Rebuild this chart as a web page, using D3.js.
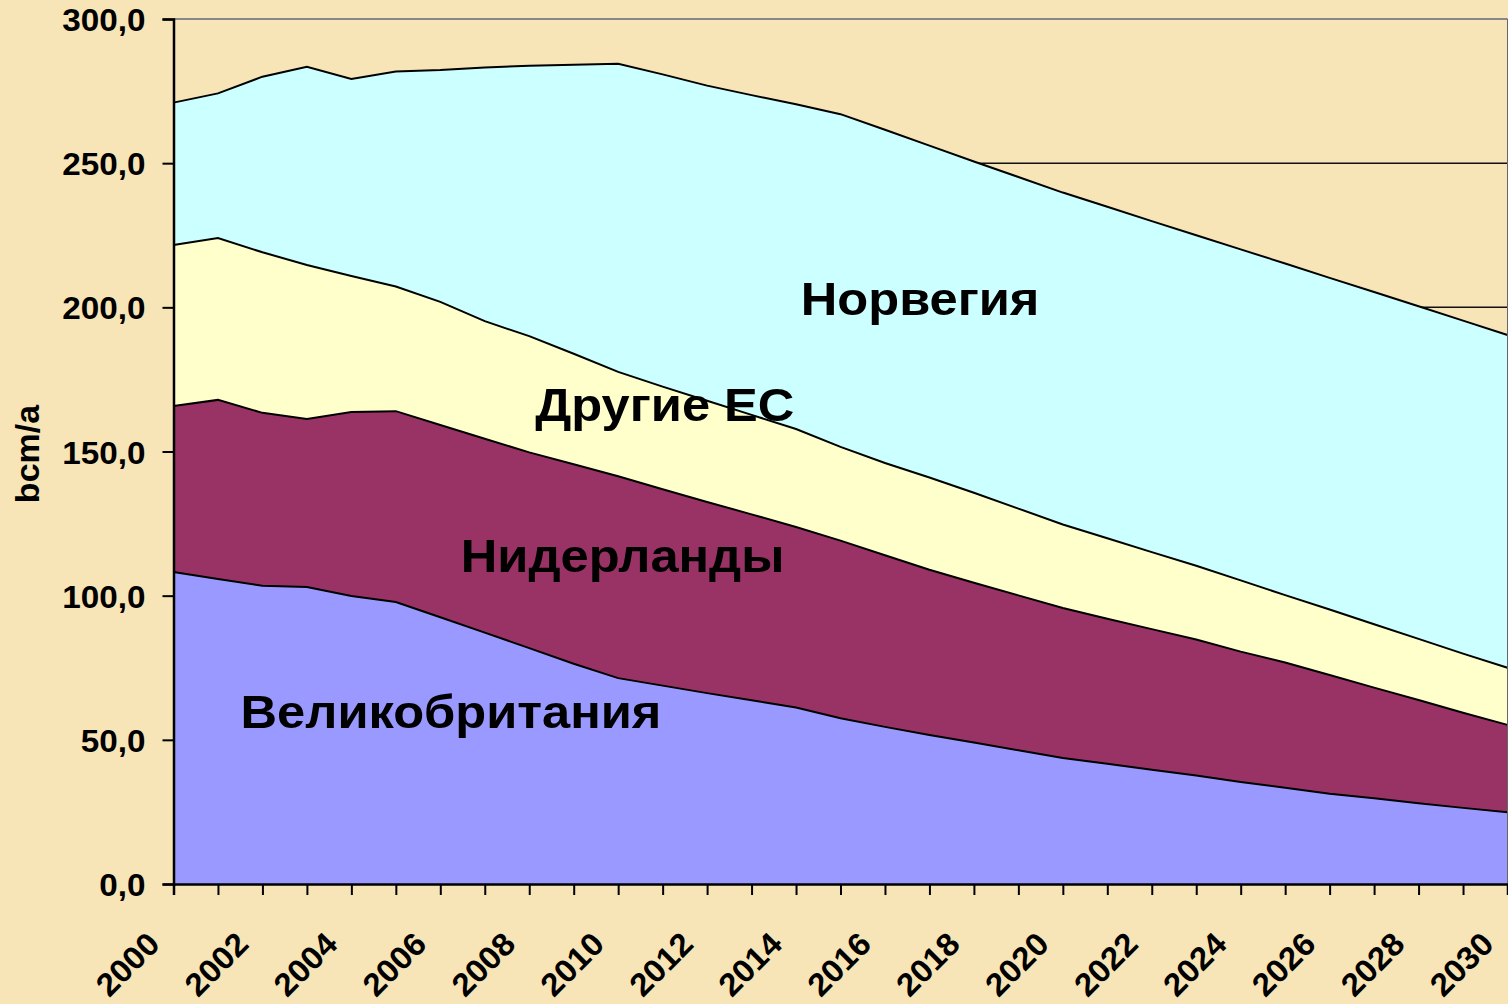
<!DOCTYPE html>
<html>
<head>
<meta charset="utf-8">
<script src="https://cdn.jsdelivr.net/npm/d3@7"></script>
<style>
  body { margin: 0; background: #F7E5B7; }
  svg { display: block; }
  text { font-family: "Liberation Sans", Arial, sans-serif; font-weight: bold; fill: #000; }
</style>
</head>
<body>
<div id="chart"></div>
<script>
// years 2000..2030, bcm/a
const years = d3.range(2000, 2031);
const uk = [108.2, 105.8, 103.4, 103.0, 99.9, 97.8, 92.5, 87.2, 81.8, 76.4, 71.4,
            68.8, 66.2, 63.7, 61.2, 57.5, 54.5, 51.7, 49.1, 46.4, 43.7,
            41.7, 39.6, 37.6, 35.4, 33.4, 31.3, 29.7, 28.0, 26.4, 24.9];
const netherlands = [57.6, 62.1, 60.0, 58.3, 63.8, 66.2, 66.7, 67.2, 67.9, 69.2, 70.0,
            68.1, 66.3, 64.5, 62.6, 61.6, 59.5, 57.3, 55.4, 53.7, 52.0,
            50.3, 48.8, 47.2, 45.2, 43.4, 41.2, 38.4, 35.8, 33.0, 30.3];
const otherEU = [55.8, 56.1, 55.7, 53.4, 47.2, 43.2, 42.7, 40.8, 40.3, 38.3, 36.2,
            35.6, 35.1, 34.5, 34.0, 32.5, 32.0, 32.0, 31.2, 30.1, 29.0,
            27.9, 26.7, 25.6, 24.7, 23.4, 22.7, 22.0, 21.2, 20.5, 19.8];
const norway = [49.4, 50.2, 60.9, 68.7, 68.3, 74.6, 80.4, 88.0, 93.8, 100.2, 106.9,
            108.3, 109.3, 110.9, 112.6, 115.4, 115.6, 115.1, 114.9, 115.0, 115.1,
            115.0, 114.8, 114.6, 114.8, 115.0, 115.0, 115.2, 115.4, 115.5, 115.4];
const seriesNames = ["Великобритания", "Нидерланды", "Другие ЕС", "Норвегия"];
const yTicks = [0, 50, 100, 150, 200, 250, 300];
const xLabelYears = d3.range(2000, 2031, 2);

const colors = ["#9999FF", "#993366", "#FFFFCC", "#CCFFFF"];

const W = 1508, H = 1004;
const margin = {top: 19, right: 0.5, bottom: 120, left: 173.5};

const svg = d3.select("#chart").append("svg")
    .attr("width", W).attr("height", H);

const x = d3.scaleLinear().domain([2000, 2030]).range([margin.left, W - margin.right]);
const y = d3.scaleLinear().domain([0, 300]).range([H - margin.bottom, margin.top]);

const table = years.map((yr, i) => ({year: yr, s0: uk[i], s1: netherlands[i], s2: otherEU[i], s3: norway[i]}));
const stacked = d3.stack().keys(["s0", "s1", "s2", "s3"])(table);

// gridlines (behind areas)
svg.append("g").selectAll("line")
    .data(yTicks.filter(d => d > 0 && d < 300))
    .enter().append("line")
    .attr("x1", x(2000)).attr("x2", x(2030))
    .attr("y1", d => y(d)).attr("y2", d => y(d))
    .attr("stroke", "#111").attr("stroke-width", 1.5);

const area = d3.area()
    .x(d => x(d.data.year))
    .y0(d => y(d[0]))
    .y1(d => y(d[1]));
const topLine = d3.line()
    .x(d => x(d.data.year))
    .y(d => y(d[1]));

svg.append("g").selectAll("path")
    .data(stacked)
    .enter().append("path")
    .attr("d", area)
    .attr("fill", (d, i) => colors[i]);

svg.append("g").selectAll("path")
    .data(stacked)
    .enter().append("path")
    .attr("d", topLine)
    .attr("fill", "none")
    .attr("stroke", "#000")
    .attr("stroke-width", 2);

// plot border top/right
svg.append("line")
    .attr("x1", x(2000)).attr("x2", x(2030))
    .attr("y1", y(300)).attr("y2", y(300))
    .attr("stroke", "#888").attr("stroke-width", 2);
svg.append("line")
    .attr("x1", x(2030)).attr("x2", x(2030))
    .attr("y1", y(300)).attr("y2", y(0))
    .attr("stroke", "#666").attr("stroke-width", 1);

// y axis
const yAxis = svg.append("g")
    .attr("transform", "translate(" + x(2000) + ",0)")
    .call(d3.axisLeft(y).tickValues(yTicks).tickSize(11).tickFormat(d => d3.format(".1f")(d).replace(".", ",")));
yAxis.select(".domain").attr("stroke", "#000").attr("stroke-width", 2.5);
yAxis.selectAll(".tick line").attr("stroke", "#000").attr("stroke-width", 2);
yAxis.selectAll(".tick text")
    .attr("x", -27).attr("dy", "0.36em")
    .style("font-size", "32px")
    .attr("transform", "scale(1.04,1)")
    .attr("font-family", null);

// x axis
const xAxis = svg.append("g")
    .attr("transform", "translate(0," + y(0) + ")")
    .call(d3.axisBottom(x).tickValues(years).tickSize(11).tickFormat(""));
xAxis.select(".domain").attr("stroke", "#000").attr("stroke-width", 2.5);
xAxis.selectAll(".tick line").attr("stroke", "#000").attr("stroke-width", 2);

svg.append("g").selectAll("text")
    .data(xLabelYears)
    .enter().append("text")
    .attr("transform", d => "translate(" + (x(d) - 12) + "," + (y(0) + 62) + ") rotate(-45) scale(1.04,1)")
    .attr("text-anchor", "end")
    .style("font-size", "32px")
    .text(d => d);

// axis title
svg.append("text")
    .attr("transform", "translate(39,454) rotate(-90)")
    .attr("text-anchor", "middle")
    .style("font-size", "34px")
    .text("bcm/a");

// series labels
const labelPos = [
    {name: seriesNames[0], year: 2006.24, value: 60},
    {name: seriesNames[1], year: 2010.1, value: 114},
    {name: seriesNames[2], year: 2011.05, value: 166.2},
    {name: seriesNames[3], year: 2016.79, value: 203.2}
];
svg.append("g").selectAll("text")
    .data(labelPos)
    .enter().append("text")
    .attr("transform", d => "translate(" + x(d.year) + "," + y(d.value) + ") scale(1.1,1)")
    .attr("text-anchor", "middle")
    .attr("dy", "0.36em")
    .style("font-size", "46px")
    .text(d => d.name);
</script>
</body>
</html>
